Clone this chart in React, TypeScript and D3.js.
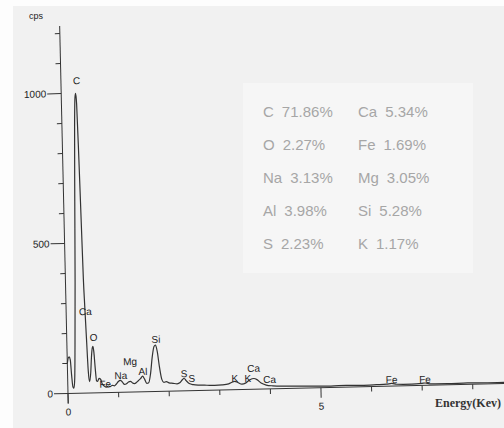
import React from 'react';
import * as d3 from 'd3';

// spectrum (energy in keV, counts in cps)
const energy = [
  0.0, 0.02, 0.04, 0.06, 0.08, 0.1, 0.12, 0.14, 0.16, 0.19, 0.22, 0.25, 0.27, 0.285, 0.3, 0.32, 0.34, 0.355,
  0.37, 0.39, 0.41, 0.43, 0.46, 0.48, 0.5, 0.515, 0.53, 0.55, 0.57, 0.59, 0.62, 0.65, 0.68, 0.72, 0.76, 0.8,
  0.84, 0.88, 0.92, 0.96, 1.0, 1.04, 1.08, 1.12, 1.16, 1.2, 1.24, 1.28, 1.32, 1.36, 1.4, 1.44, 1.48, 1.52,
  1.56, 1.6, 1.64, 1.68, 1.72, 1.75, 1.78, 1.82, 1.86, 1.9, 1.95, 2.0, 2.08, 2.16, 2.22, 2.27, 2.3, 2.34,
  2.4, 2.48, 2.6, 2.75, 2.9, 3.05, 3.18, 3.26, 3.3, 3.36, 3.44, 3.52, 3.6, 3.68, 3.74, 3.82, 3.92, 4.05,
  4.3, 4.6, 4.9, 5.2, 5.5, 5.8, 6.1, 6.3, 6.4, 6.5, 6.8, 7.0, 7.06, 7.15, 7.5, 7.9, 8.3, 8.7,
];
const counts = [
  100, 118, 122, 112, 60, 22, 17, 50, 160, 370, 640, 890, 985, 1000, 965, 780, 550, 380,
  290, 180, 75, 38, 70, 120, 150, 155, 135, 80, 40, 38, 48, 45, 30, 22, 18, 22,
  20, 24, 22, 28, 36, 40, 34, 26, 28, 34, 36, 30, 28, 32, 38, 44, 52, 42,
  28, 30, 60, 115, 150, 155, 135, 80, 40, 30, 32, 28, 26, 24, 28, 38, 42, 34,
  24, 20, 18, 17, 16, 17, 20, 26, 28, 24, 18, 22, 32, 36, 32, 20, 13, 10,
  8, 7, 6, 5, 6, 5, 6, 7, 9, 6, 5, 7, 8, 5, 4, 5, 4, 4,
];

// peak labels
const peakNames = ['C', 'Ca', 'O', 'Fe', 'Na', 'Mg', 'Al', 'Si', 'S', 'S', 'K', 'K', 'Ca', 'Ca', 'Fe', 'Fe'];
const peakEnergy = [0.31, 0.38, 0.53, 0.74, 1.05, 1.24, 1.49, 1.76, 2.3, 2.45, 3.3, 3.56, 3.68, 3.99, 6.4, 7.06];
const peakCounts = [1030, 260, 173, 17, 44, 90, 56, 162, 46, 29, 26, 25, 58, 20, 10, 8];

// composition table
const elements = ['C', 'Ca', 'O', 'Fe', 'Na', 'Mg', 'Al', 'Si', 'S', 'K'];
const percents = ['71.86%', '5.34%', '2.27%', '1.69%', '3.13%', '3.05%', '3.98%', '5.28%', '2.23%', '1.17%'];

const yMinorTicks = [100, 200, 300, 400, 600, 700, 800, 900, 1100, 1200];
const yMajorTicks = [0, 500, 1000];
const xMinorTicks = [1, 2, 3, 4, 6, 7, 8];
const xMajorTicks = [0, 5];

const W = 504;
const H = 428;
const ox = 68;
const oy = 393.5;

export default function App() {
  const x = d3.scaleLinear().domain([0, 9]).range([ox, ox + 9 * 50.6]);
  const y = d3.scaleLinear().domain([0, 1225]).range([oy, oy - 367.5]);

  const pts = energy.map((e, i) => [e, counts[i]] as [number, number]);
  const line = d3
    .line<[number, number]>()
    .x(d => x(d[0]))
    .y(d => y(d[1]))
    .curve(d3.curveMonotoneX);

  const font = "'Liberation Sans', Arial, sans-serif";
  const ink = '#333';

  return (
    <svg width={W} height={H} style={{ position: 'absolute', left: 0, top: 0 }}>
      <rect width={W} height={H} fill="#fdfdfd" />
      <rect x={13} y={6} width={W - 13} height={H - 6} fill="#f1f1f1" />

      <text x={36} y={19} fontFamily={font} fontSize={9} textAnchor="middle" fill="#222">cps</text>

      <g transform={`rotate(-1.3 ${ox} ${oy})`} fontFamily={font}>
        {/* axes */}
        <line x1={ox} x2={ox} y1={y(1225)} y2={oy + 10} stroke={ink} strokeWidth={1} />
        <line x1={ox} x2={x(9)} y1={oy} y2={oy} stroke={ink} strokeWidth={1} />

        {yMinorTicks.map(t => (
          <line key={'ym' + t} x1={ox - 5} x2={ox} y1={y(t)} y2={y(t)} stroke={ink} strokeWidth={1} />
        ))}
        {yMajorTicks.map(t => (
          <g key={'yM' + t}>
            <line x1={ox - 14} x2={ox} y1={y(t)} y2={y(t)} stroke={ink} strokeWidth={1} />
            <text x={ox - 15} y={y(t) + 3.5} fontSize={10} textAnchor="end" fill="#222">{t}</text>
          </g>
        ))}

        {xMinorTicks.map(t => (
          <line key={'xm' + t} x1={x(t)} x2={x(t)} y1={oy} y2={oy + 5} stroke={ink} strokeWidth={1} />
        ))}
        {xMajorTicks.map(t => (
          <g key={'xM' + t}>
            <line x1={x(t)} x2={x(t)} y1={oy} y2={oy + 10} stroke={ink} strokeWidth={1} />
            <text x={x(t)} y={oy + 22} fontSize={10} textAnchor="middle" fill="#222">{t}</text>
          </g>
        ))}

        {/* spectrum */}
        <path d={line(pts) || ''} fill="none" stroke="#333" strokeWidth={1.2} />

        {peakNames.map((n, i) => (
          <text key={'p' + i} x={x(peakEnergy[i])} y={y(peakCounts[i])} fontSize={10} textAnchor="middle" fill="#1e1e1e">
            {n}
          </text>
        ))}
      </g>

      <text x={435} y={407} fontFamily="'Liberation Serif', 'Times New Roman', serif" fontWeight="bold" fontSize={12} fill="#333">
        Energy(Kev)
      </text>

      {/* composition box */}
      <rect x={243} y={83} width={230} height={190} fill="#f6f6f6" />
      {elements.map((el, i) => (
        <text
          key={'e' + i}
          x={i % 2 === 0 ? 263 : 358}
          y={116.7 + Math.floor(i / 2) * 33}
          fontFamily={font}
          fontSize={15}
          fill="#a6a6a6"
        >
          {el}
          <tspan dx={8}>{percents[i]}</tspan>
        </text>
      ))}
    </svg>
  );
}
